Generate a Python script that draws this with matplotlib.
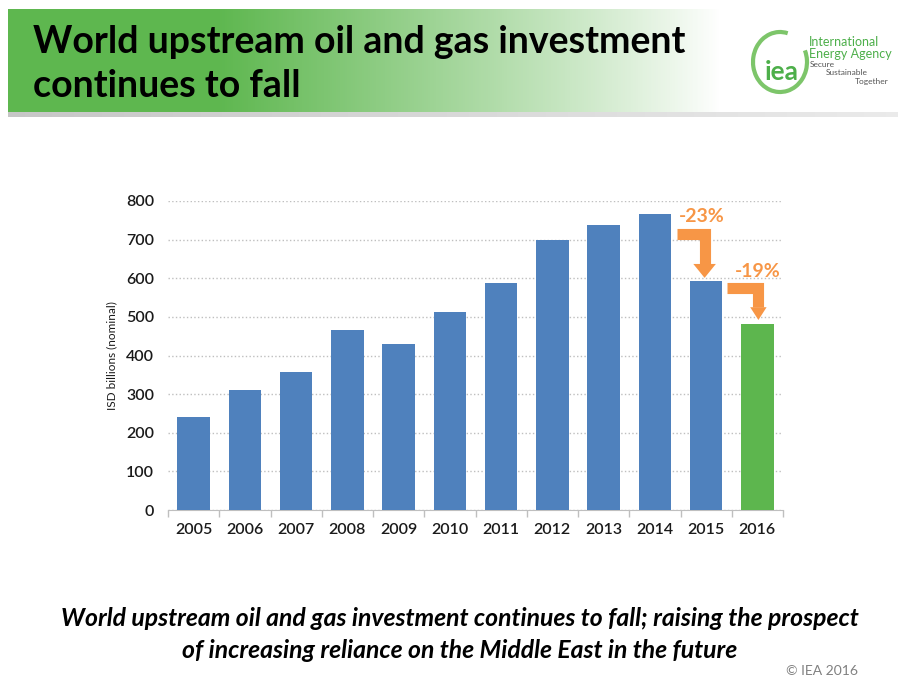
import numpy as np
import matplotlib.pyplot as plt
from matplotlib.patches import Arc

# datos
years = ["2005", "2006", "2007", "2008", "2009", "2010",
         "2011", "2012", "2013", "2014", "2015", "2016"]
investment = [241, 311, 356, 466, 429, 513, 588, 700, 737, 767, 592, 481]
change_labels = ["-23%", "-19%"]

blue = "#4F81BD"
green = "#5DB64E"
orange = "#F79646"

plt.rcParams["font.family"] = ["Lato", "DejaVu Sans"]

fig = plt.figure(figsize=(8.98, 6.77), dpi=100)

# capa de fondo en pixeles (banner, logo, textos)
bg = fig.add_axes([0, 0, 1, 1], zorder=0)
bg.set_xlim(0, 898)
bg.set_ylim(677, 0)
bg.axis("off")

# banner con degradado verde -> blanco
xs = np.linspace(8, 898, 900)
alpha = np.clip((720 - xs) / (720 - 220), 0, 1) ** 0.9
grad = np.zeros((1, len(xs), 4))
grad[..., 0] = 0.37
grad[..., 1] = 0.72
grad[..., 2] = 0.31
grad[..., 3] = alpha
bg.imshow(grad, extent=(8, 898, 112, 9), aspect="auto", zorder=1)
shade = np.zeros((1, len(xs), 4))
shade[..., :3] = 0.78
shade[..., 3] = np.clip(1 - (xs - 8) / 1400, 0.3, 1)
bg.imshow(shade, extent=(8, 898, 117, 112), aspect="auto", zorder=1)

bg.text(33, 53, "World upstream oil and gas investment", fontsize=27,
        fontweight="bold", color="black", va="baseline", zorder=3)
bg.text(33, 97, "continues to fall", fontsize=27,
        fontweight="bold", color="black", va="baseline", zorder=3)

# logo
bg.add_patch(Arc((780, 62), 54, 60, theta1=-25, theta2=285,
                 color="#7DC56A", lw=3, zorder=3))
bg.text(782, 80, "iea", fontsize=19, fontweight="bold", color="#4DAF4A",
        ha="center", va="baseline", zorder=3)
bg.text(809, 46, "International", fontsize=9, color="#4DAF4A",
        va="baseline", zorder=3)
bg.text(809, 58, "Energy Agency", fontsize=9, color="#4DAF4A",
        va="baseline", zorder=3)
bg.text(810, 67, "Secure", fontsize=6, color="#555555", va="baseline", zorder=3)
bg.text(826, 75, "Sustainable", fontsize=6, color="#555555", va="baseline", zorder=3)
bg.text(889, 84, "Together", fontsize=6, color="#555555", va="baseline",
        ha="right", zorder=3)

# texto inferior
bg.text(460, 618, "World upstream oil and gas investment continues to fall; raising the prospect",
        fontsize=17.8, fontweight="bold", style="italic", ha="center", va="center")
bg.text(460, 650, "of increasing reliance on the Middle East in the future",
        fontsize=17.8, fontweight="bold", style="italic", ha="center", va="center")
bg.text(858, 671, "\u00a9 IEA 2016", fontsize=10, color="#808080", ha="right", va="center")

# grafico de barras
ax = fig.add_axes([168 / 898, 1 - 510 / 677, 615 / 898, 309 / 677], zorder=2)
x = np.arange(len(years))
colors = [blue] * (len(years) - 1) + [green]
ax.bar(x, investment, width=0.63, color=colors, zorder=3)

ax.set_xlim(-0.5, len(years) - 0.5)
ax.set_ylim(0, 800)
ax.set_yticks(range(0, 801, 100))
ax.set_xticks(x)
ax.set_xticklabels(years)
ax.set_xticks(np.arange(-0.5, len(years), 1), minor=True)
ax.tick_params(axis="x", which="major", length=0, pad=9, labelsize=11.5, labelcolor="#1a1a1a")
ax.tick_params(axis="x", which="minor", length=5, color="#BFBFBF", width=1)
ax.tick_params(axis="y", length=0, pad=10, labelsize=11.5, labelcolor="#1a1a1a")
for lab in ax.get_xticklabels() + ax.get_yticklabels():
    lab.set_fontweight("semibold")
ax.yaxis.grid(True, color="#BFBFBF", linestyle=":", linewidth=1, zorder=0)
for s in ["top", "right", "left"]:
    ax.spines[s].set_visible(False)
ax.spines["bottom"].set_color("#BFBFBF")
ax.set_ylabel("ISD billions (nominal)", fontsize=8.5, color="#1a1a1a", labelpad=6)

# flechas de caida
arrows = [
    # (x inicio, x tallo, y horizontal, y base punta, y punta, semiancho punta)
    (9.44, 9.97, 715, 637, 601, 0.22),
    (10.41, 11.02, 574, 525, 492, 0.16),
]
for x0, xs_, yh, yb, yt, hw in arrows:
    ax.plot([x0, xs_, xs_], [yh, yh, yb], color=orange, lw=8,
            solid_joinstyle="miter", solid_capstyle="butt", zorder=5)
    ax.fill([xs_ - hw, xs_ + hw, xs_], [yb, yb, yt], color=orange, lw=0, zorder=5)

ax.text(9.92, 759, change_labels[0], color=orange, fontsize=14,
        fontweight="bold", ha="center", va="center", zorder=6)
ax.text(11.0, 617, change_labels[1], color=orange, fontsize=14,
        fontweight="bold", ha="center", va="center", zorder=6)

fig.savefig("out.png", dpi=100)
